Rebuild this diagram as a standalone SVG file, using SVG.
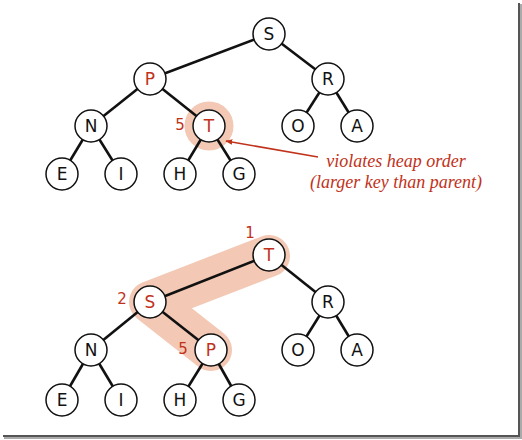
<svg xmlns="http://www.w3.org/2000/svg" width="522" height="440" viewBox="0 0 522 440">
<style>
.edge{stroke:#111;stroke-width:2.6;fill:none}
.node circle{fill:#fff;stroke:#111;stroke-width:1.5}
.node text{font-family:"DejaVu Sans","Liberation Sans",sans-serif;font-size:17px;text-anchor:middle;fill:#111}
.node text.hl{fill:#c0321a}
.num{font-family:"DejaVu Sans","Liberation Sans",sans-serif;font-size:15px;fill:#c0321a;text-anchor:middle}
.note{font-family:"Liberation Serif",serif;font-style:italic;font-size:18px;fill:#c0321a;text-anchor:middle}
</style>
<defs>
<marker id="ah" viewBox="0 0 10 10" refX="9" refY="5" markerWidth="7" markerHeight="7" orient="auto" markerUnits="userSpaceOnUse">
<path d="M0,1 L10,5 L0,9 Z" fill="#c0321a"/>
</marker>
</defs>
<rect x="0" y="0" width="522" height="440" fill="#fff"/>
<!-- frame shadow -->
<rect x="518" y="3" width="2" height="434" fill="#555"/>
<rect x="520" y="4" width="2" height="434" fill="#aaa"/>
<rect x="3" y="435" width="517" height="2" fill="#555"/>
<rect x="4" y="437" width="518" height="2" fill="#aaa"/>

<!-- highlights -->
<circle cx="209" cy="126" r="20.5" fill="none" stroke="#f3c9b6" stroke-width="8"/>
<path d="M269,256 L150,302 L211,350" fill="none" stroke="#f3c9b6" stroke-width="42" stroke-linejoin="round" stroke-linecap="round"/>

<g id="connectors">
<line class="edge" x1="269" y1="34" x2="150" y2="79"/>
<line class="edge" x1="269" y1="34" x2="328" y2="79"/>
<line class="edge" x1="150" y1="79" x2="91" y2="126"/>
<line class="edge" x1="150" y1="79" x2="209" y2="126"/>
<line class="edge" x1="328" y1="79" x2="298" y2="126"/>
<line class="edge" x1="328" y1="79" x2="357" y2="126"/>
<line class="edge" x1="91" y1="126" x2="62" y2="174"/>
<line class="edge" x1="91" y1="126" x2="121" y2="174"/>
<line class="edge" x1="209" y1="126" x2="180" y2="174"/>
<line class="edge" x1="209" y1="126" x2="239" y2="174"/>

<line class="edge" x1="269" y1="255" x2="150" y2="302"/>
<line class="edge" x1="269" y1="255" x2="328" y2="302"/>
<line class="edge" x1="150" y1="302" x2="91" y2="350"/>
<line class="edge" x1="150" y1="302" x2="211" y2="350"/>
<line class="edge" x1="328" y1="302" x2="298" y2="350"/>
<line class="edge" x1="328" y1="302" x2="357" y2="350"/>
<line class="edge" x1="91" y1="350" x2="62" y2="400"/>
<line class="edge" x1="91" y1="350" x2="121" y2="400"/>
<line class="edge" x1="211" y1="350" x2="180" y2="400"/>
<line class="edge" x1="211" y1="350" x2="239" y2="400"/>

<line x1="318" y1="157" x2="226" y2="141" stroke="#c0321a" stroke-width="1.5" marker-end="url(#ah)"/>
</g>

<!-- top tree -->
<g id="t-S" class="node"><circle cx="269" cy="34" r="16"/><text x="269" y="40">S</text></g>
<g id="t-P" class="node"><circle cx="150" cy="79" r="16"/><text class="hl" x="150" y="85">P</text></g>
<g id="t-R" class="node"><circle cx="328" cy="79" r="16"/><text x="328" y="85">R</text></g>
<g id="t-N" class="node"><circle cx="91" cy="126" r="16"/><text x="91" y="132">N</text></g>
<g id="t-T" class="node"><circle cx="209" cy="126" r="16"/><text class="hl" x="209" y="132">T</text></g>
<g id="t-O" class="node"><circle cx="298" cy="126" r="16"/><text x="298" y="132">O</text></g>
<g id="t-A" class="node"><circle cx="357" cy="126" r="16"/><text x="357" y="132">A</text></g>
<g id="t-E" class="node"><circle cx="62" cy="174" r="16"/><text x="62" y="180">E</text></g>
<g id="t-I" class="node"><circle cx="121" cy="174" r="16"/><text x="121" y="180">I</text></g>
<g id="t-H" class="node"><circle cx="180" cy="174" r="16"/><text x="180" y="180">H</text></g>
<g id="t-G" class="node"><circle cx="239" cy="174" r="16"/><text x="239" y="180">G</text></g>

<text class="num" x="180" y="130">5</text>
<text class="note" x="396" y="167">violates heap order</text>
<text class="note" x="396" y="188">(larger key than parent)</text>

<!-- bottom tree -->
<g id="b-T" class="node"><circle cx="269" cy="255" r="16"/><text class="hl" x="269" y="261">T</text></g>
<g id="b-S" class="node"><circle cx="150" cy="302" r="16"/><text class="hl" x="150" y="308">S</text></g>
<g id="b-R" class="node"><circle cx="328" cy="302" r="16"/><text x="328" y="308">R</text></g>
<g id="b-N" class="node"><circle cx="91" cy="350" r="16"/><text x="91" y="356">N</text></g>
<g id="b-P" class="node"><circle cx="211" cy="350" r="16"/><text class="hl" x="211" y="356">P</text></g>
<g id="b-O" class="node"><circle cx="298" cy="350" r="16"/><text x="298" y="356">O</text></g>
<g id="b-A" class="node"><circle cx="357" cy="350" r="16"/><text x="357" y="356">A</text></g>
<g id="b-E" class="node"><circle cx="62" cy="400" r="16"/><text x="62" y="406">E</text></g>
<g id="b-I" class="node"><circle cx="121" cy="400" r="16"/><text x="121" y="406">I</text></g>
<g id="b-H" class="node"><circle cx="180" cy="400" r="16"/><text x="180" y="406">H</text></g>
<g id="b-G" class="node"><circle cx="239" cy="400" r="16"/><text x="239" y="406">G</text></g>

<text class="num" x="250" y="238">1</text>
<text class="num" x="122" y="304">2</text>
<text class="num" x="183" y="354">5</text>
</svg>
